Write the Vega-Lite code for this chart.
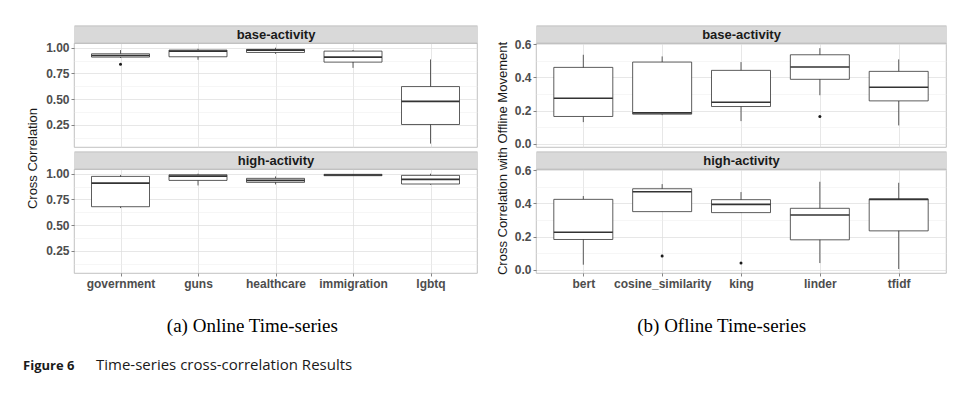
{
  "$schema": "https://vega.github.io/schema/vega-lite/v6.json",
  "padding": {"left": 22, "top": 27, "right": 5, "bottom": 5},
  "background": "white",
  "config": {
    "view": {"stroke": "#b3b3b3", "strokeWidth": 0.8},
    "axis": {
      "domain": false,
      "gridColor": "#dcdcdc",
      "gridWidth": 0.7,
      "labelFont": "Liberation Sans",
      "labelFontSize": 12,
      "labelFontWeight": "bold",
      "labelColor": "#4d4d4d",
      "labelPadding": 2,
      "labelOverlap": false,
      "tickColor": "#333333",
      "tickSize": 3,
      "tickWidth": 0.6,
      "titleFont": "Liberation Sans",
      "titleFontSize": 13,
      "titleFontWeight": "normal",
      "titleColor": "#1a1a1a"
    }
  },
  "datasets": {
    "online": [
      {"activity": "base-activity", "cat": "government", "lower": 0.90, "q1": 0.909, "median": 0.925, "q3": 0.941, "upper": 0.977, "outlier": 0.84},
      {"activity": "base-activity", "cat": "guns", "lower": 0.883, "q1": 0.912, "median": 0.967, "q3": 0.977, "upper": 0.99, "outlier": null},
      {"activity": "base-activity", "cat": "healthcare", "lower": 0.94, "q1": 0.954, "median": 0.977, "q3": 0.984, "upper": 1.0, "outlier": null},
      {"activity": "base-activity", "cat": "immigration", "lower": 0.804, "q1": 0.86, "median": 0.909, "q3": 0.967, "upper": 0.977, "outlier": null},
      {"activity": "base-activity", "cat": "lgbtq", "lower": 0.067, "q1": 0.253, "median": 0.478, "q3": 0.622, "upper": 0.886, "outlier": null},
      {"activity": "high-activity", "cat": "government", "lower": 0.666, "q1": 0.679, "median": 0.909, "q3": 0.974, "upper": 0.987, "outlier": null},
      {"activity": "high-activity", "cat": "guns", "lower": 0.886, "q1": 0.935, "median": 0.977, "q3": 0.99, "upper": 1.0, "outlier": null},
      {"activity": "high-activity", "cat": "healthcare", "lower": 0.896, "q1": 0.916, "median": 0.935, "q3": 0.955, "upper": 0.974, "outlier": null},
      {"activity": "high-activity", "cat": "immigration", "lower": 0.978, "q1": 0.981, "median": 0.987, "q3": 0.994, "upper": 0.997, "outlier": null},
      {"activity": "high-activity", "cat": "lgbtq", "lower": 0.893, "q1": 0.9, "median": 0.945, "q3": 0.984, "upper": 1.0, "outlier": null}
    ],
    "offline": [
      {"activity": "base-activity", "cat": "bert", "lower": 0.13, "q1": 0.164, "median": 0.274, "q3": 0.46, "upper": 0.536, "outlier": null},
      {"activity": "base-activity", "cat": "cosine_similarity", "lower": 0.172, "q1": 0.178, "median": 0.186, "q3": 0.492, "upper": 0.526, "outlier": null},
      {"activity": "base-activity", "cat": "king", "lower": 0.136, "q1": 0.224, "median": 0.25, "q3": 0.442, "upper": 0.492, "outlier": null},
      {"activity": "base-activity", "cat": "linder", "lower": 0.292, "q1": 0.388, "median": 0.462, "q3": 0.536, "upper": 0.576, "outlier": 0.164},
      {"activity": "base-activity", "cat": "tfidf", "lower": 0.11, "q1": 0.258, "median": 0.34, "q3": 0.436, "upper": 0.508, "outlier": null},
      {"activity": "high-activity", "cat": "bert", "lower": 0.03, "q1": 0.182, "median": 0.226, "q3": 0.424, "upper": 0.444, "outlier": null},
      {"activity": "high-activity", "cat": "cosine_similarity", "lower": 0.35, "q1": 0.35, "median": 0.47, "q3": 0.488, "upper": 0.516, "outlier": 0.082},
      {"activity": "high-activity", "cat": "king", "lower": 0.344, "q1": 0.344, "median": 0.394, "q3": 0.422, "upper": 0.468, "outlier": 0.04},
      {"activity": "high-activity", "cat": "linder", "lower": 0.04, "q1": 0.18, "median": 0.33, "q3": 0.37, "upper": 0.53, "outlier": null},
      {"activity": "high-activity", "cat": "tfidf", "lower": 0.004, "q1": 0.234, "median": 0.424, "q3": 0.426, "upper": 0.524, "outlier": null}
    ]
  },
  "spacing": 20,
  "vconcat": [
    {
      "spacing": 18,
      "hconcat": [
        {
          "title": {"text": "(a) Online Time-series", "orient": "bottom", "anchor": "middle", "font": "Liberation Serif", "fontSize": 19, "fontWeight": "normal", "color": "#000000", "offset": 28},
          "vconcat": [
            {
              "title": {"text": "Cross Correlation", "orient": "left", "anchor": "middle", "font": "Liberation Sans", "fontSize": 13, "fontWeight": "normal", "color": "#1a1a1a", "offset": 5},
              "spacing": 5,
              "vconcat": [
                {
                  "width": 403, "height": 104,
                  "data": {"name": "online"},
                  "transform": [{"filter": "datum.activity == 'base-activity'"}],
                  "resolve": {"axis": {"x": "independent"}},
                  "layer": [
                    {"mark": {"type": "rule", "color": "#333333", "strokeWidth": 0.8},
                     "encoding": {
                       "x": {"field": "cat", "type": "nominal", "scale": {"type": "point", "padding": 0.6, "domain": ["government", "guns", "healthcare", "immigration", "lgbtq"]}, "axis": {"title": null, "labels": false, "ticks": false, "grid": true}},
                       "y": {"field": "lower", "type": "quantitative", "title": null, "scale": {"domain": [0.034, 1.046], "nice": false, "zero": false},
                       "axis": {"values": [0.125, 0.25, 0.375, 0.5, 0.625, 0.75, 0.875, 1], "tickCount": 50, "labelOverlap": false, "labelExpr": "(datum.value*8)%2==1 ? '' : format(datum.value,'.2f')",
                         "tickOpacity": {"condition": {"test": "(datum.value*8)%2==1", "value": 0}, "value": 1},
                         "gridColor": {"condition": {"test": "(datum.value*8)%2==1", "value": "#ececec"}, "value": "#dcdcdc"},
                         "gridWidth": {"condition": {"test": "(datum.value*8)%2==1", "value": 0.5}, "value": 0.7}}},
                       "y2": {"field": "upper"}}},
                    {"mark": {"type": "bar", "size": 58, "fill": "white", "stroke": "#333333", "strokeWidth": 0.8, "opacity": 1},
                     "encoding": {
                       "x": {"field": "cat", "type": "nominal", "axis": {"orient": "top", "title": null, "labels": false, "ticks": false, "grid": false, "domain": true, "domainColor": "#b3b3b3", "domainWidth": 18, "offset": 9}},
                       "y": {"field": "q1", "type": "quantitative", "title": null}, "y2": {"field": "q3"}}},
                    {"mark": {"type": "tick", "size": 58, "thickness": 1.6, "color": "#333333", "opacity": 1},
                     "encoding": {
                       "x": {"field": "cat", "type": "nominal", "axis": {"orient": "top", "title": "base-activity", "labels": false, "ticks": false, "grid": false, "domain": true, "domainColor": "#d9d9d9", "domainWidth": 16.4, "offset": 9, "titleFontWeight": "bold", "titleBaseline": "middle", "titleY": 0, "titlePadding": 0}},
                       "y": {"field": "median", "type": "quantitative", "title": null}}},
                    {"transform": [{"filter": "datum.outlier != null"}],
                     "mark": {"type": "circle", "size": 9, "color": "#1a1a1a", "opacity": 1},
                     "encoding": {"x": {"field": "cat", "type": "nominal", "axis": null}, "y": {"field": "outlier", "type": "quantitative", "title": null}}}
                  ]
                },
                {
                  "width": 403, "height": 104,
                  "data": {"name": "online"},
                  "transform": [{"filter": "datum.activity == 'high-activity'"}],
                  "resolve": {"axis": {"x": "independent"}},
                  "layer": [
                    {"mark": {"type": "rule", "color": "#333333", "strokeWidth": 0.8},
                     "encoding": {
                       "x": {"field": "cat", "type": "nominal", "scale": {"type": "point", "padding": 0.6, "domain": ["government", "guns", "healthcare", "immigration", "lgbtq"]}, "axis": {"title": null, "labelAngle": 0, "labelOverlap": false, "grid": true}},
                       "y": {"field": "lower", "type": "quantitative", "title": null, "scale": {"domain": [0.034, 1.046], "nice": false, "zero": false},
                       "axis": {"values": [0.125, 0.25, 0.375, 0.5, 0.625, 0.75, 0.875, 1], "tickCount": 50, "labelOverlap": false, "labelExpr": "(datum.value*8)%2==1 ? '' : format(datum.value,'.2f')",
                         "tickOpacity": {"condition": {"test": "(datum.value*8)%2==1", "value": 0}, "value": 1},
                         "gridColor": {"condition": {"test": "(datum.value*8)%2==1", "value": "#ececec"}, "value": "#dcdcdc"},
                         "gridWidth": {"condition": {"test": "(datum.value*8)%2==1", "value": 0.5}, "value": 0.7}}},
                       "y2": {"field": "upper"}}},
                    {"mark": {"type": "bar", "size": 58, "fill": "white", "stroke": "#333333", "strokeWidth": 0.8, "opacity": 1},
                     "encoding": {
                       "x": {"field": "cat", "type": "nominal", "axis": {"orient": "top", "title": null, "labels": false, "ticks": false, "grid": false, "domain": true, "domainColor": "#b3b3b3", "domainWidth": 18, "offset": 9}},
                       "y": {"field": "q1", "type": "quantitative", "title": null}, "y2": {"field": "q3"}}},
                    {"mark": {"type": "tick", "size": 58, "thickness": 1.6, "color": "#333333", "opacity": 1},
                     "encoding": {
                       "x": {"field": "cat", "type": "nominal", "axis": {"orient": "top", "title": "high-activity", "labels": false, "ticks": false, "grid": false, "domain": true, "domainColor": "#d9d9d9", "domainWidth": 16.4, "offset": 9, "titleFontWeight": "bold", "titleBaseline": "middle", "titleY": 0, "titlePadding": 0}},
                       "y": {"field": "median", "type": "quantitative", "title": null}}},
                    {"transform": [{"filter": "datum.outlier != null"}],
                     "mark": {"type": "circle", "size": 9, "color": "#1a1a1a", "opacity": 1},
                     "encoding": {"x": {"field": "cat", "type": "nominal", "axis": null}, "y": {"field": "outlier", "type": "quantitative", "title": null}}}
                  ]
                }
              ]
            }
          ]
        },
        {
          "title": {"text": "(b) Ofline Time-series", "orient": "bottom", "anchor": "middle", "font": "Liberation Serif", "fontSize": 19, "fontWeight": "normal", "color": "#000000", "offset": 28},
          "vconcat": [
            {
              "title": {"text": "Cross Correlation with Offline Movement", "orient": "left", "anchor": "middle", "font": "Liberation Sans", "fontSize": 13, "fontWeight": "normal", "color": "#1a1a1a", "offset": 4},
              "spacing": 2,
              "vconcat": [
                {
                  "width": 410, "height": 104,
                  "data": {"name": "offline"},
                  "transform": [{"filter": "datum.activity == 'base-activity'"}],
                  "resolve": {"axis": {"x": "independent"}},
                  "layer": [
                    {"mark": {"type": "rule", "color": "#333333", "strokeWidth": 0.8},
                     "encoding": {
                       "x": {"field": "cat", "type": "nominal", "scale": {"type": "point", "padding": 0.6, "domain": ["bert", "cosine_similarity", "king", "linder", "tfidf"]}, "axis": {"title": null, "labels": false, "ticks": false, "grid": true}},
                       "y": {"field": "lower", "type": "quantitative", "title": null, "scale": {"domain": [-0.02, 0.607], "nice": false, "zero": false},
                       "axis": {"values": [0, 0.1, 0.2, 0.3, 0.4, 0.5, 0.6], "tickCount": 50, "labelOverlap": false, "labelExpr": "round(datum.value*10)%2==1 ? '' : format(datum.value,'.1f')",
                         "tickOpacity": {"condition": {"test": "round(datum.value*10)%2==1", "value": 0}, "value": 1},
                         "gridColor": {"condition": {"test": "round(datum.value*10)%2==1", "value": "#ececec"}, "value": "#dcdcdc"},
                         "gridWidth": {"condition": {"test": "round(datum.value*10)%2==1", "value": 0.5}, "value": 0.7}}},
                       "y2": {"field": "upper"}}},
                    {"mark": {"type": "bar", "size": 59, "fill": "white", "stroke": "#333333", "strokeWidth": 0.8, "opacity": 1},
                     "encoding": {
                       "x": {"field": "cat", "type": "nominal", "axis": {"orient": "top", "title": null, "labels": false, "ticks": false, "grid": false, "domain": true, "domainColor": "#b3b3b3", "domainWidth": 18, "offset": 9}},
                       "y": {"field": "q1", "type": "quantitative", "title": null}, "y2": {"field": "q3"}}},
                    {"mark": {"type": "tick", "size": 59, "thickness": 1.6, "color": "#333333", "opacity": 1},
                     "encoding": {
                       "x": {"field": "cat", "type": "nominal", "axis": {"orient": "top", "title": "base-activity", "labels": false, "ticks": false, "grid": false, "domain": true, "domainColor": "#d9d9d9", "domainWidth": 16.4, "offset": 9, "titleFontWeight": "bold", "titleBaseline": "middle", "titleY": 0, "titlePadding": 0}},
                       "y": {"field": "median", "type": "quantitative", "title": null}}},
                    {"transform": [{"filter": "datum.outlier != null"}],
                     "mark": {"type": "circle", "size": 9, "color": "#1a1a1a", "opacity": 1},
                     "encoding": {"x": {"field": "cat", "type": "nominal", "axis": null}, "y": {"field": "outlier", "type": "quantitative", "title": null}}}
                  ]
                },
                {
                  "width": 410, "height": 104,
                  "data": {"name": "offline"},
                  "transform": [{"filter": "datum.activity == 'high-activity'"}],
                  "resolve": {"axis": {"x": "independent"}},
                  "layer": [
                    {"mark": {"type": "rule", "color": "#333333", "strokeWidth": 0.8},
                     "encoding": {
                       "x": {"field": "cat", "type": "nominal", "scale": {"type": "point", "padding": 0.6, "domain": ["bert", "cosine_similarity", "king", "linder", "tfidf"]}, "axis": {"title": null, "labelAngle": 0, "labelOverlap": false, "grid": true}},
                       "y": {"field": "lower", "type": "quantitative", "title": null, "scale": {"domain": [-0.02, 0.607], "nice": false, "zero": false},
                       "axis": {"values": [0, 0.1, 0.2, 0.3, 0.4, 0.5, 0.6], "tickCount": 50, "labelOverlap": false, "labelExpr": "round(datum.value*10)%2==1 ? '' : format(datum.value,'.1f')",
                         "tickOpacity": {"condition": {"test": "round(datum.value*10)%2==1", "value": 0}, "value": 1},
                         "gridColor": {"condition": {"test": "round(datum.value*10)%2==1", "value": "#ececec"}, "value": "#dcdcdc"},
                         "gridWidth": {"condition": {"test": "round(datum.value*10)%2==1", "value": 0.5}, "value": 0.7}}},
                       "y2": {"field": "upper"}}},
                    {"mark": {"type": "bar", "size": 59, "fill": "white", "stroke": "#333333", "strokeWidth": 0.8, "opacity": 1},
                     "encoding": {
                       "x": {"field": "cat", "type": "nominal", "axis": {"orient": "top", "title": null, "labels": false, "ticks": false, "grid": false, "domain": true, "domainColor": "#b3b3b3", "domainWidth": 18, "offset": 9}},
                       "y": {"field": "q1", "type": "quantitative", "title": null}, "y2": {"field": "q3"}}},
                    {"mark": {"type": "tick", "size": 59, "thickness": 1.6, "color": "#333333", "opacity": 1},
                     "encoding": {
                       "x": {"field": "cat", "type": "nominal", "axis": {"orient": "top", "title": "high-activity", "labels": false, "ticks": false, "grid": false, "domain": true, "domainColor": "#d9d9d9", "domainWidth": 16.4, "offset": 9, "titleFontWeight": "bold", "titleBaseline": "middle", "titleY": 0, "titlePadding": 0}},
                       "y": {"field": "median", "type": "quantitative", "title": null}}},
                    {"transform": [{"filter": "datum.outlier != null"}],
                     "mark": {"type": "circle", "size": 9, "color": "#1a1a1a", "opacity": 1},
                     "encoding": {"x": {"field": "cat", "type": "nominal", "axis": null}, "y": {"field": "outlier", "type": "quantitative", "title": null}}}
                  ]
                }
              ]
            }
          ]
        }
      ]
    },
    {
      "width": 44, "height": 16,
      "view": {"stroke": null},
      "data": {"values": [{"lab": "Figure 6", "t": "Time-series cross-correlation Results"}]},
      "mark": {"type": "text", "align": "left", "baseline": "middle", "font": "Open Sans", "fontSize": 15, "fontWeight": "normal", "color": "#1a1a1a"},
      "encoding": {
        "y": {"field": "lab", "type": "nominal", "title": null, "axis": {"domain": false, "ticks": false, "grid": false, "labelPadding": 0, "labelFont": "Open Sans", "labelFontSize": 13, "labelFontWeight": "bold", "labelColor": "#1a1a1a"}},
        "text": {"field": "t"}
      }
    }
  ]
}
